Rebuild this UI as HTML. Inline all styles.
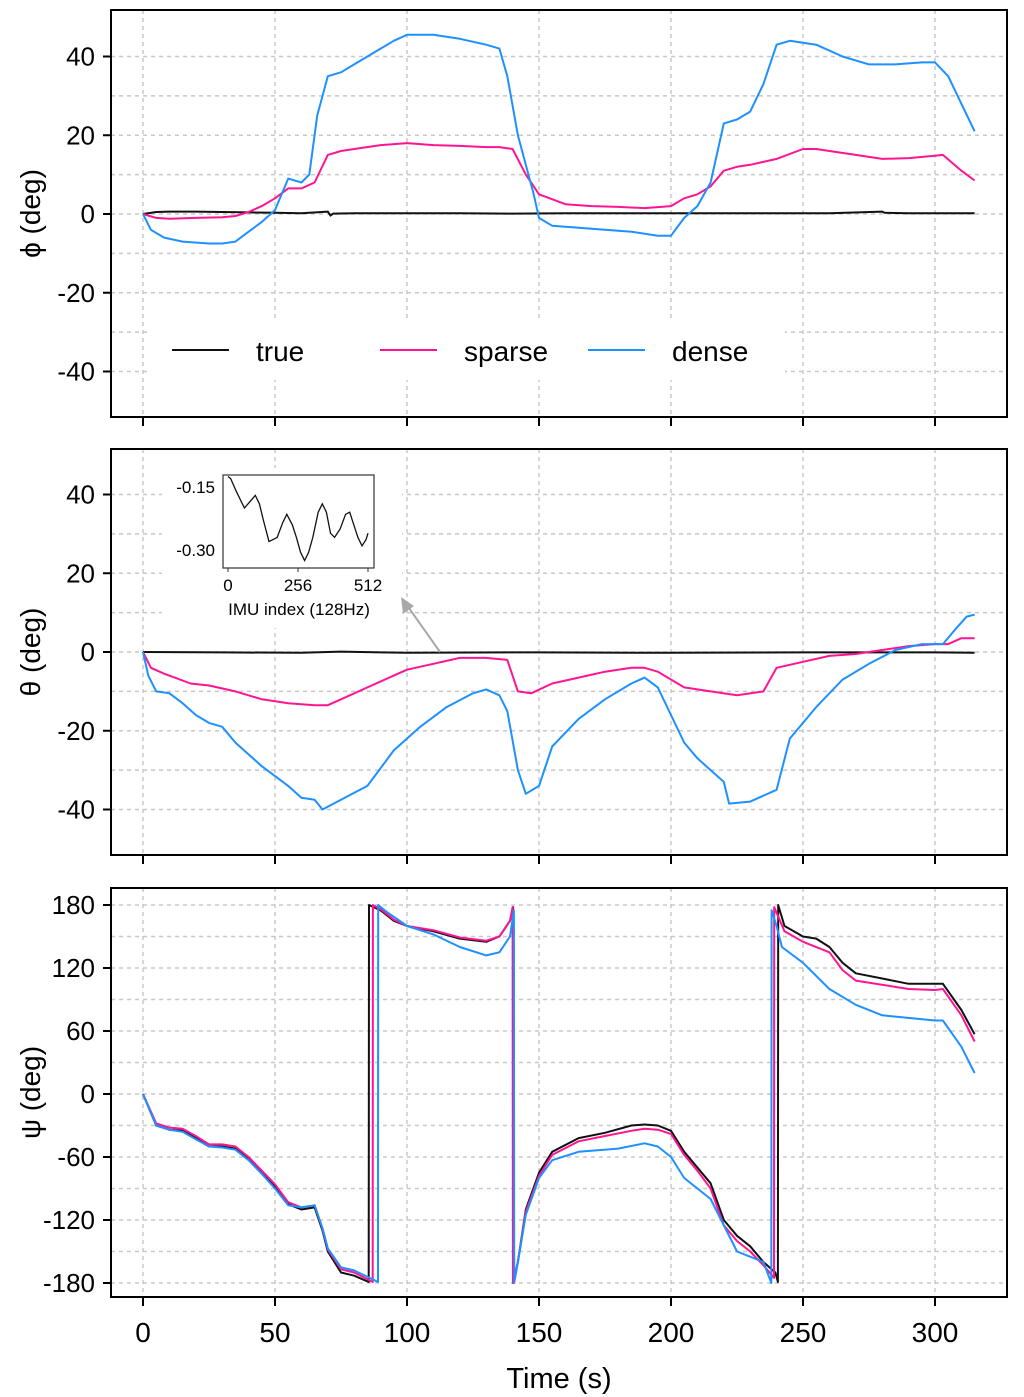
<!DOCTYPE html>
<html><head><meta charset="utf-8"><style>
body{margin:0;background:#fff}
svg{display:block;font-family:"Liberation Sans",Arial,sans-serif}
</style></head><body>
<svg id="chart" width="1024" height="1397" viewBox="0 0 1024 1397" xmlns="http://www.w3.org/2000/svg"></svg>
<script>
// ---- data ----
const phiT=[0,5,10,20,30,40,50,60,70,71,72,80,100,120,140,160,180,200,220,240,260,280,281,290,300,315];
const phiTrue=[0,0.5,0.6,0.6,0.5,0.4,0.3,0.2,0.6,-0.4,0.1,0.2,0.2,0.2,0.1,0.2,0.2,0.2,0.2,0.2,0.2,0.6,0.3,0.2,0.2,0.2];
const phiSpT=[0,5,10,20,30,35,40,45,50,55,60,65,70,75,80,90,100,110,120,130,135,140,145,150,160,170,180,190,200,205,210,215,220,225,230,240,250,255,260,270,280,290,300,303,310,315];
const phiSparse=[0,-1,-1.2,-1,-0.8,-0.5,0.5,2,4,6.5,6.5,8,15,16,16.5,17.5,18,17.5,17.3,17,17,16.5,10,5,2.5,2,1.8,1.5,2,4,5,7,11,12,12.5,14,16.5,16.5,16,15,14,14.2,14.8,15,11,8.5];
const phiDnT=[0,3,8,15,25,30,35,40,45,50,55,60,63,66,70,75,80,90,95,100,110,120,130,135,138,142,148,150,155,165,175,185,195,200,205,210,215,220,225,230,235,240,245,255,265,275,285,295,300,305,310,315];
const phiDense=[0,-4,-6,-7,-7.5,-7.5,-7,-4.5,-2,1,9,8,10,25,35,36,38,42,44,45.5,45.5,44.5,43,42,35,20,5,-1,-3,-3.5,-4,-4.5,-5.5,-5.5,-1,2,8,23,24,26,33,43,44,43,40,38,38,38.5,38.5,35,28,21];

const thT=[0,30,60,75,90,100,140,150,200,250,300,315];
const thTrue=[0,-0.1,-0.2,0.1,-0.1,-0.2,-0.1,-0.1,-0.2,-0.1,-0.1,-0.2];
const thSpT=[0,3,8,12,18,25,35,45,55,65,70,75,85,95,100,110,120,130,138,142,147,155,165,175,185,190,195,205,215,225,235,240,250,260,270,280,290,300,305,310,315];
const thSparse=[0,-4,-5.5,-6.5,-8,-8.5,-10,-12,-13,-13.5,-13.5,-12,-9,-6,-4.5,-3,-1.5,-1.5,-2,-10,-10.5,-8,-6.5,-5,-4,-4,-5,-9,-10,-11,-10,-4,-2.5,-1,-0.5,0.5,1.5,2,2,3.5,3.5];
const thDnT=[0,2,5,10,15,20,25,30,35,45,55,60,65,68,75,85,95,105,115,125,130,135,138,142,145,150,155,165,175,185,190,195,200,205,210,220,222,230,240,245,255,265,275,285,295,303,308,312,315];
const thDense=[0,-6,-10,-10.5,-13,-16,-18,-19,-23,-29,-34,-37,-37.5,-40,-37.5,-34,-25,-19,-14,-10.5,-9.5,-11,-15,-30,-36,-34,-24,-17,-12,-8,-6.5,-9,-16,-23,-27,-33,-38.5,-38,-35,-22,-14,-7,-3,0.5,2,2,6,9,9.5];

const psT=[0,5,10,15,20,25,30,35,40,45,50,55,60,65,68,70,75,80,85.5,85.6,90,95,100,110,120,130,135,139,140.2,140.3,142,145,150,155,165,175,185,190,195,200,205,210,215,220,225,230,235,239.5,240.5,240.6,243,250,255,260,265,270,280,290,300,303,310,315];
const psTrue=[0,-30,-34,-35,-42,-50,-50,-52,-62,-75,-88,-105,-110,-108,-130,-150,-170,-173,-179,180,175,165,160,155,148,145,150,165,178,-180,-160,-110,-75,-55,-42,-37,-30,-29,-30,-35,-55,-70,-85,-120,-135,-145,-160,-170,-179,180,160,150,148,140,125,115,110,105,105,105,80,57];
const psSpT=[0,5,10,15,20,25,30,35,40,45,50,55,60,65,68,70,75,80,87,87.1,90,95,100,110,120,130,135,139,140,140.1,142,145,150,155,165,175,185,190,195,200,205,210,215,220,225,230,235,239,239.1,243,250,260,265,270,290,300,303,310,315];
const psSparse=[0,-28,-32,-33,-40,-48,-48,-50,-60,-73,-86,-103,-108,-106,-128,-148,-167,-170,-179,180,176,166,160,156,149,146,150,165,178,-180,-160,-112,-78,-58,-45,-40,-35,-33,-34,-38,-58,-73,-90,-125,-140,-150,-163,-175,178,155,145,135,118,108,100,99,100,75,50];
const psDnT=[0,5,10,15,20,25,30,35,40,45,50,55,60,65,68,70,75,80,89,89.1,92,100,110,120,130,135,139,140.5,140.6,142,145,150,155,165,180,190,195,200,205,215,225,235,238,238.1,240,242,250,260,270,280,300,303,310,315];
const psDense=[0,-30,-34,-36,-43,-50,-51,-53,-63,-76,-90,-106,-108,-106,-128,-147,-165,-168,-179,180,174,160,152,140,132,135,150,175,-180,-160,-115,-80,-63,-55,-52,-47,-50,-60,-80,-100,-150,-160,-180,175,160,140,125,100,85,75,70,70,45,20];

const insetIdx=[0,10,30,60,80,100,115,130,150,180,200,215,235,250,265,280,295,310,330,345,360,375,390,410,430,445,460,475,490,505,512];
const insetVal=[-0.125,-0.13,-0.16,-0.2,-0.185,-0.17,-0.19,-0.23,-0.28,-0.27,-0.235,-0.215,-0.24,-0.27,-0.305,-0.325,-0.305,-0.27,-0.21,-0.19,-0.21,-0.26,-0.27,-0.25,-0.215,-0.21,-0.24,-0.27,-0.29,-0.275,-0.26];

const NS="http://www.w3.org/2000/svg";
const svg=document.getElementById('chart');
function mk(tag,attrs,parent){const e=document.createElementNS(NS,tag);for(const k in attrs)e.setAttribute(k,attrs[k]);(parent||svg).appendChild(e);return e;}
const X=t=>143+t*132/50;
const BLACK='#111',PINK='#ff1493',BLUE='#1e90ff';

function panel(name,top,bot,yOf,gridVals,tickVals,tickLbls,title,series){
  const g=mk('g',{});
  
  
  for(const v of gridVals){const l=mk('line',{x1:111,x2:1007,y1:yOf(v),y2:yOf(v),stroke:'#c8c8c8','stroke-width':1.5,'stroke-dasharray':'4,4'},g);}
  for(let t=0;t<=300;t+=50){const l=mk('line',{x1:X(t),x2:X(t),y1:top,y2:bot,stroke:'#c8c8c8','stroke-width':1.5,'stroke-dasharray':'4,4'},g);}
  tickVals.forEach((v,i)=>{
    mk('line',{x1:103,x2:111,y1:yOf(v),y2:yOf(v),stroke:'#000','stroke-width':2},g);
    const tx=mk('text',{x:95,y:yOf(v)+9,'text-anchor':'end','font-size':26},g);tx.textContent=tickLbls[i];
    
  });
  for(let t=0;t<=300;t+=50)mk('line',{x1:X(t),x2:X(t),y1:bot,y2:bot+9,stroke:'#000','stroke-width':2},g);
  const yt=mk('text',{x:0,y:0,transform:`translate(40,${(top+bot)/2}) rotate(-90)`,'text-anchor':'middle','font-size':28},g);
  yt.textContent=title;
  return g;
}
function line(g,ts,vs,yOf,col,name){
  const p=mk('polyline',{points:ts.map((t,i)=>X(t).toFixed(1)+','+yOf(vs[i]).toFixed(1)).join(' '),fill:'none',stroke:col,'stroke-width':2,'stroke-linejoin':'round'},g);
  
}
function frame(g,top,bot){const r=mk('rect',{x:111,y:top,width:896,height:bot-top,fill:'none',stroke:'#000','stroke-width':2},g);}

// Panel 1
const y1=v=>214-v*78.75/20;
const g1=panel('phi',10,417,y1,[40,30,20,10,0,-10,-20,-30,-40],[40,20,0,-20,-40],['40','20','0','-20','-40'],'ϕ (deg)');
// legend
const lg=mk('g',{},g1);
mk('rect',{x:150,y:322,width:635,height:58,fill:'#fff'},lg);
[['true',BLACK,172,256],['sparse',PINK,380,464],['dense',BLUE,588,672]].forEach(([n,c,x0,tx])=>{
  const e=mk('g',{},lg);
  mk('line',{x1:x0,x2:x0+57,y1:350,y2:350,stroke:c,'stroke-width':2},e);
  const t=mk('text',{x:tx,y:361,'font-size':28},e);t.textContent=n;
});
line(g1,phiT,phiTrue,y1,BLACK,'phi-true-line');
line(g1,phiSpT,phiSparse,y1,PINK,'phi-sparse-line');
line(g1,phiDnT,phiDense,y1,BLUE,'phi-dense-line');
frame(g1,10,417);

// Panel 2
const y2=v=>652-v*78.75/20;
const g2=panel('theta',449,855,y2,[40,30,20,10,0,-10,-20,-30,-40],[40,20,0,-20,-40],['40','20','0','-20','-40'],'θ (deg)');
line(g2,thT,thTrue,y2,BLACK,'theta-true-line');
line(g2,thSpT,thSparse,y2,PINK,'theta-sparse-line');
line(g2,thDnT,thDense,y2,BLUE,'theta-dense-line');
frame(g2,449,855);
// inset
const ig=mk('g',{},g2);
mk('rect',{x:162,y:468,width:240,height:160,fill:'#fff'},ig);
const ix=i=>228+i*140/512, iy=v=>487+(-0.15-v)*63/0.15;
mk('rect',{x:223,y:475,width:151,height:93,fill:'#fff',stroke:'#333','stroke-width':1.2},ig);
[[-0.15,'-0.15'],[-0.30,'-0.30']].forEach(([v,l])=>{const t=mk('text',{x:215,y:iy(v)+6,'text-anchor':'end','font-size':17},ig);t.textContent=l;});
[[0,'0'],[256,'256'],[512,'512']].forEach(([v,l])=>{mk('line',{x1:ix(v),x2:ix(v),y1:568,y2:572,stroke:'#333'},ig);const t=mk('text',{x:ix(v),y:591,'text-anchor':'middle','font-size':17},ig);t.textContent=l;});
const it=mk('text',{x:299,y:615,'text-anchor':'middle','font-size':17},ig);it.textContent='IMU index (128Hz)';
const ip=mk('polyline',{points:insetIdx.map((t,i)=>ix(t).toFixed(1)+','+iy(insetVal[i]).toFixed(1)).join(' '),fill:'none',stroke:'#111','stroke-width':1.3},ig);

const ar=mk('g',{},g2);
mk('line',{x1:440,y1:652,x2:404,y2:601,stroke:'#a8a8a8','stroke-width':2},ar);
mk('polygon',{points:'401,597 403,614 414,606',fill:'#a8a8a8'},ar);

// Panel 3
const y3=v=>1094-v*63/60;
const g3=panel('psi',888,1297,y3,[180,150,120,90,60,30,0,-30,-60,-90,-120,-150,-180],[180,120,60,0,-60,-120,-180],['180','120','60','0','-60','-120','-180'],'ψ (deg)');
line(g3,psT,psTrue,y3,BLACK,'psi-true-line');
line(g3,psSpT,psSparse,y3,PINK,'psi-sparse-line');
line(g3,psDnT,psDense,y3,BLUE,'psi-dense-line');
frame(g3,888,1297);
for(let t=0;t<=300;t+=50){const tx=mk('text',{x:X(t),y:1342,'text-anchor':'middle','font-size':28});tx.textContent=t;}
const xt=mk('text',{x:559,y:1388,'text-anchor':'middle','font-size':29});xt.textContent='Time (s)';

</script>
</body></html>
